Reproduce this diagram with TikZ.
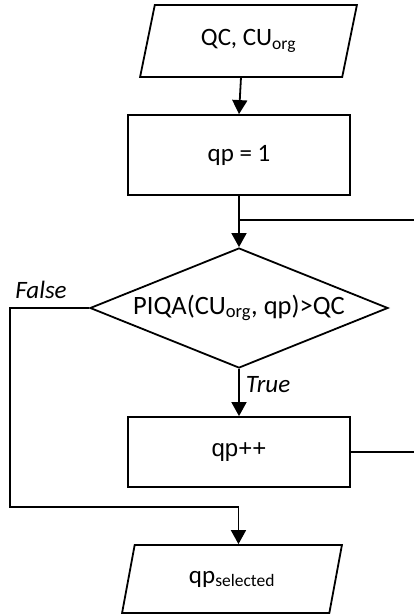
\documentclass[tikz,border=0pt]{standalone}
\usepackage{fontspec}
\setmainfont{Carlito}
\newfontfamily\arialfont{Liberation Sans}
\usetikzlibrary{arrows.meta,shapes.geometric}
\begin{document}
\begin{tikzpicture}[x=1pt,y=-1pt,
  line width=1.8pt,
  every node/.style={font=\fontsize{25}{30}\selectfont},
  arr/.style={-{Triangle[length=14pt,width=15pt]}},
  procbox/.style={draw,rectangle,minimum width=222pt,inner sep=0pt},
  iobox/.style={draw,trapezium,trapezium stretches=true,inner sep=0pt},
  decbox/.style={draw,diamond,minimum width=298pt,minimum height=120pt,inner sep=0pt},
  lbl/.style={font=\fontsize{25}{30}\selectfont\itshape}
]
\useasboundingbox (0,0) rectangle (414,615);
\fill[white] (0,0) rectangle (414,615);

\node[iobox, trapezium left angle=72, trapezium right angle=108,
      minimum width=217pt, minimum height=72pt] (in) at (248.5,41) {QC, CU\textsubscript{org}};
\node[procbox, minimum height=80pt] (init) at (239,155) {qp = 1};
\node[decbox] (dec) at (239,308) {};
\node[font=\fontsize{26.5}{30}\selectfont] at (dec.center) {PIQA(CU\textsubscript{org}, qp)>QC};
\node[procbox, minimum height=70pt, font=\fontsize{24}{30}\selectfont\arialfont] (inc) at (239,452) {qp++};
\node[iobox, trapezium left angle=71, trapezium right angle=109,
      minimum width=222pt, minimum height=68pt] (out) at (232,579) {qp\textsubscript{selected}};

\node[lbl] (f) at (41,290) {False};
\node[lbl] (t) at (268,385) {True};

\coordinate (jr) at (414,220);
\coordinate (ir) at (414,452);
\coordinate (fl) at (10,308);
\coordinate (fb) at (10,507);

\draw[arr] (in.bottom side) -- (init.north);
\draw[arr] (init.south) -- (dec.north);
\draw (jr) -- (jr -| init.south);
\draw[arr] (dec.south) -- (inc.north);
\draw (inc.east) -- (ir);
\draw[arr] (dec.west) -- (fl) -- (fb) -- (fb -| out.top side) -- (out.top side);
\end{tikzpicture}
\end{document}
